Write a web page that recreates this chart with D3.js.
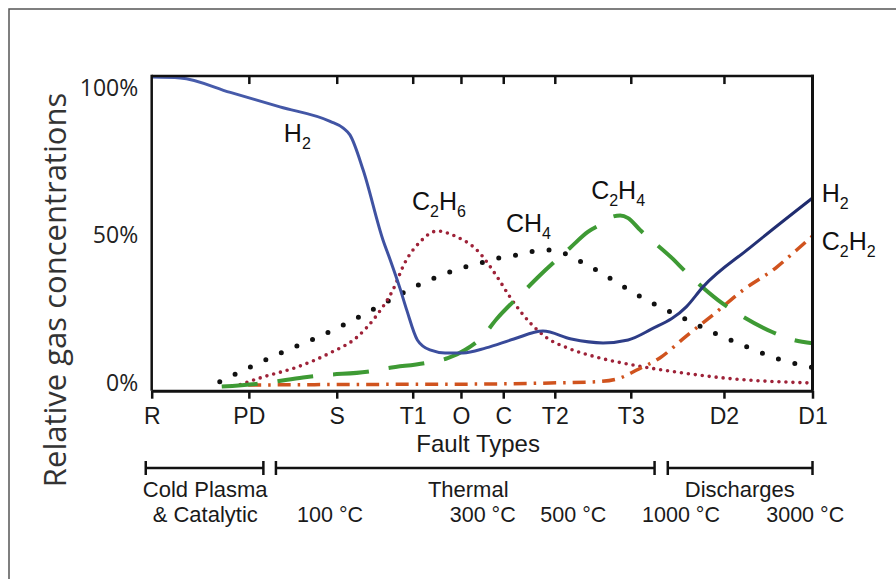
<!DOCTYPE html>
<html><head><meta charset="utf-8">
<script src="https://cdn.jsdelivr.net/npm/d3@7"></script>
<style>body{margin:0;background:#fff}svg{display:block}</style>
</head><body><svg id="c" width="896" height="579"></svg>
<script>
// ---------- data ----------
const faultTypes = ["R","PD","S","T1","O","C","T2","T3","D2","D1"];
const faultPos   = [0, 14.7, 28.0, 39.5, 46.8, 53.2, 61.0, 72.5, 86.6, 100];
const yTicks = [0, 50, 100];

const h2X = [0,4.3,11.9,19.4,27.0,29.0,30.0,32.0,35.0,36.1,37.6,38.6,40.2,42.1,44.4,47.1,50.6,54.8,59.2,63.5,68.3,72.1,75.4,80.9,83.4,90.5,100];
const h2Y = [103.7,103.4,98.5,93.6,88.7,86.4,84.1,72.2,48.5,41.7,31.9,24.7,14.6,11.2,10.2,10.2,11.9,14.9,17.6,14.9,13.6,14.6,18.0,25.8,32.5,45.8,62.7];

const c2h6X = [13.4,16.8,22.0,27.0,31.1,34.1,36.5,38.3,40.6,43.2,46.2,49.2,52.3,54.2,57.3,59.8,62.9,67.8,72.8,80.4,88.0,98.6,100];
const c2h6Y = [-0.5,2.0,5.4,10.2,15.6,23.1,31.5,40.7,47.8,51.5,49.5,45.1,35.9,29.2,20.3,15.3,11.9,8.5,6.1,3.4,1.4,0.1,0];

const ch4X = [10.3,15.3,20.3,25.2,30.2,35.0,39.7,44.7,47.4,50.0,52.6,55.3,57.9,60.6,63.2,65.6,68.0,70.4,75.1,80.0,84.8,89.8,94.9,100];
const ch4Y = [0.4,5.8,10.9,15.6,21.0,26.8,32.5,37.3,39.3,40.8,42.4,43.4,44.7,45.1,43.2,40.3,37.4,34.0,27.9,22.5,17.3,12.5,8.1,5.3];

const c2h4X = [10.6,17.5,22.9,26.2,32.6,35.6,41.7,44.8,47.4,50.0,52.2,56.2,58.8,63.3,66.0,68.6,69.6,70.9,72.1,73.9,78.7,81.0,85.7,88.6,93.9,97.1,100];
const c2h4Y = [-1.2,0.1,1.9,2.7,3.8,5.0,6.9,8.4,11.2,15.6,21.7,30.8,36.6,45.8,51.2,54.6,56.3,56.8,55.9,51.9,42.4,37.3,28.1,23.7,17.3,14.6,13.5];

const c2h2X = [14.6,30.1,46.7,60.3,67.8,70.9,73.4,76.9,80.9,85.1,89.5,94.6,97.6,100];
const c2h2Y = [-0.7,-0.5,-0.4,0,0.5,1.7,4.4,8.5,15.9,23.4,31.5,39.3,45.1,49.8];

const curveLabels = ["H_2","C_2H_6","CH_4","C_2H_4","H_2","C_2H_2"];
const curveLabelX = [20.0, 39.4, 53.6, 66.5, 101.4, 101.4];
const curveLabelY = [81.7, 58.6, 51.2, 62.4, 61.4, 45.1];

const zoneNames  = [["Cold Plasma","& Catalytic"],["Thermal"],["Discharges"]];
const zoneStart  = [-0.9, 18.8, 78.1];
const zoneEnd    = [16.9, 76.1, 100];
const zoneLabelX = [8.1, 47.9, 89.0];

const tempLabels = ["100 °C","300 °C","500 °C","1000 °C","3000 °C"];
const tempPos    = [27.0, 50.1, 63.8, 80.1, 98.9];

// ---------- layout ----------
const svg = d3.select("#c");
const x = d3.scaleLinear().domain([0,100]).range([151.7, 812.5]);
const y = d3.scaleLinear().domain([0,100]).range([383, 88]);
const yTop = y(104.05), yBot = 390.7;
const X0 = x(0), X1 = x(100);

const sans = "'Liberation Sans', Arial, sans-serif";

// outer gray frame
svg.append("rect").attr("x",9).attr("y",9).attr("width",900).attr("height",600)
  .attr("fill","none").attr("stroke","#555").attr("stroke-width",1.5);

// gradient for H2
const defs = svg.append("defs");
const g = defs.append("linearGradient").attr("id","h2g").attr("gradientUnits","userSpaceOnUse")
  .attr("x1",X0).attr("x2",X1).attr("y1",0).attr("y2",0);
g.append("stop").attr("offset","0").attr("stop-color","#4a5fae");
g.append("stop").attr("offset","0.5").attr("stop-color","#3a4c9c");
g.append("stop").attr("offset","1").attr("stop-color","#1e2a6c");

const line = d3.line().x(d=>x(d[0])).y(d=>y(d[1])).curve(d3.curveMonotoneX);
const zip = (a,b)=>a.map((v,i)=>[v,b[i]]);

const plot = svg.append("g");
plot.append("path").datum(zip(ch4X,ch4Y)).attr("d",line).attr("fill","none")
  .attr("stroke","#111").attr("stroke-width",5).attr("stroke-linecap","round").attr("stroke-dasharray","0 17");
plot.append("path").datum(zip(c2h6X,c2h6Y)).attr("d",line).attr("fill","none")
  .attr("stroke","#9e2238").attr("stroke-width",3.6).attr("stroke-linecap","round").attr("stroke-dasharray","0 7");
plot.append("path").datum(zip(c2h2X,c2h2Y)).attr("d",line).attr("fill","none")
  .attr("stroke","#d0531e").attr("stroke-width",3.5).attr("stroke-dasharray","13 7 2.5 7");
plot.append("path").datum(zip(c2h4X,c2h4Y)).attr("d",line).attr("fill","none")
  .attr("stroke","#3e9a34").attr("stroke-width",4).attr("stroke-dasharray","36 20");
plot.append("path").datum(zip(h2X,h2Y)).attr("d",line).attr("fill","none")
  .attr("stroke","url(#h2g)").attr("stroke-width",3);

// frame
const fr = svg.append("g").attr("stroke","#111");
fr.append("line").attr("x1",X0).attr("x2",X1+1.5).attr("y1",yTop).attr("y2",yTop).attr("stroke-width",2.5);
fr.append("line").attr("x1",X0).attr("x2",X0).attr("y1",yTop-1.2).attr("y2",yBot).attr("stroke-width",2.5);
fr.append("line").attr("x1",X1).attr("x2",X1).attr("y1",yTop-1.2).attr("y2",yBot).attr("stroke-width",3);

// top inward ticks
const topAx = svg.append("g").attr("transform",`translate(0,${yTop})`)
  .call(d3.axisTop(x).tickValues(faultPos.slice(1,-1)).tickSize(-8).tickFormat(""));
topAx.select(".domain").remove();
topAx.selectAll("line").attr("stroke","#111").attr("stroke-width",2.5);

// bottom axis
const botAx = svg.append("g").attr("transform",`translate(0,${yBot})`)
  .call(d3.axisBottom(x).tickValues(faultPos).tickFormat((d,i)=>faultTypes[i]).tickSize(8).tickSizeOuter(0).tickPadding(10));
botAx.select(".domain").attr("stroke","#111").attr("stroke-width",3);
botAx.selectAll("line").attr("stroke","#111").attr("stroke-width",2.5);
botAx.selectAll("text").attr("font-family",sans).attr("font-size",23).attr("fill","#1a1a1a").attr("dy","0.68em");

// left axis labels
const leftAx = svg.append("g").attr("transform",`translate(${X0},0)`)
  .call(d3.axisLeft(y).tickValues(yTicks).tickFormat(d=>d+"%").tickSize(0).tickPadding(13.5));
leftAx.select(".domain").remove();
leftAx.selectAll("text").attr("font-family","'Open Sans', sans-serif").attr("font-size",23).attr("fill","#222");

// axis titles
svg.append("text").attr("x",x(49.4)).attr("y",452).attr("text-anchor","middle")
  .attr("font-family",sans).attr("font-size",24).attr("fill","#1a1a1a").text("Fault Types");
svg.append("text").attr("transform","translate(66,290) rotate(-90)").attr("text-anchor","middle")
  .attr("font-family","'Open Sans', sans-serif").attr("font-size",31).attr("fill","#333")
  .text("Relative gas concentrations");

// curve labels with subscripts
curveLabels.forEach((lab,i)=>{
  const t = svg.append("text").attr("x",x(curveLabelX[i])).attr("y",y(curveLabelY[i]))
    .attr("font-family",sans).attr("font-size",25).attr("fill","#111");
  let sub = false, prevSub = false;
  for (const ch of lab) {
    if (ch === "_") { sub = true; continue; }
    if (sub) { t.append("tspan").attr("font-size",16).attr("dy",7).text(ch); sub = false; prevSub = true; }
    else { t.append("tspan").attr("dy",prevSub?-7:0).text(ch); prevSub = false; }
  }
});

// zone brackets
const zb = svg.append("g").attr("stroke","#111").attr("stroke-width",2.5);
const bY = 468;
zoneStart.forEach((s,i)=>{
  zb.append("line").attr("x1",x(s)).attr("x2",x(zoneEnd[i])).attr("y1",bY).attr("y2",bY);
  zb.append("line").attr("x1",x(s)).attr("x2",x(s)).attr("y1",bY-7).attr("y2",bY+7);
  zb.append("line").attr("x1",x(zoneEnd[i])).attr("x2",x(zoneEnd[i])).attr("y1",bY-7).attr("y2",bY+7);
});
zoneNames.forEach((lines,i)=>{
  lines.forEach((ln,j)=>{
    svg.append("text").attr("x",x(zoneLabelX[i])).attr("y",497+j*25).attr("text-anchor","middle")
      .attr("font-family",sans).attr("font-size",22).attr("fill","#1a1a1a").text(ln);
  });
});
tempLabels.forEach((t,i)=>{
  svg.append("text").attr("x",x(tempPos[i])).attr("y",522).attr("text-anchor","middle")
    .attr("font-family",sans).attr("font-size",21.5).attr("fill","#1a1a1a").text(t);
});
</script></body></html>
